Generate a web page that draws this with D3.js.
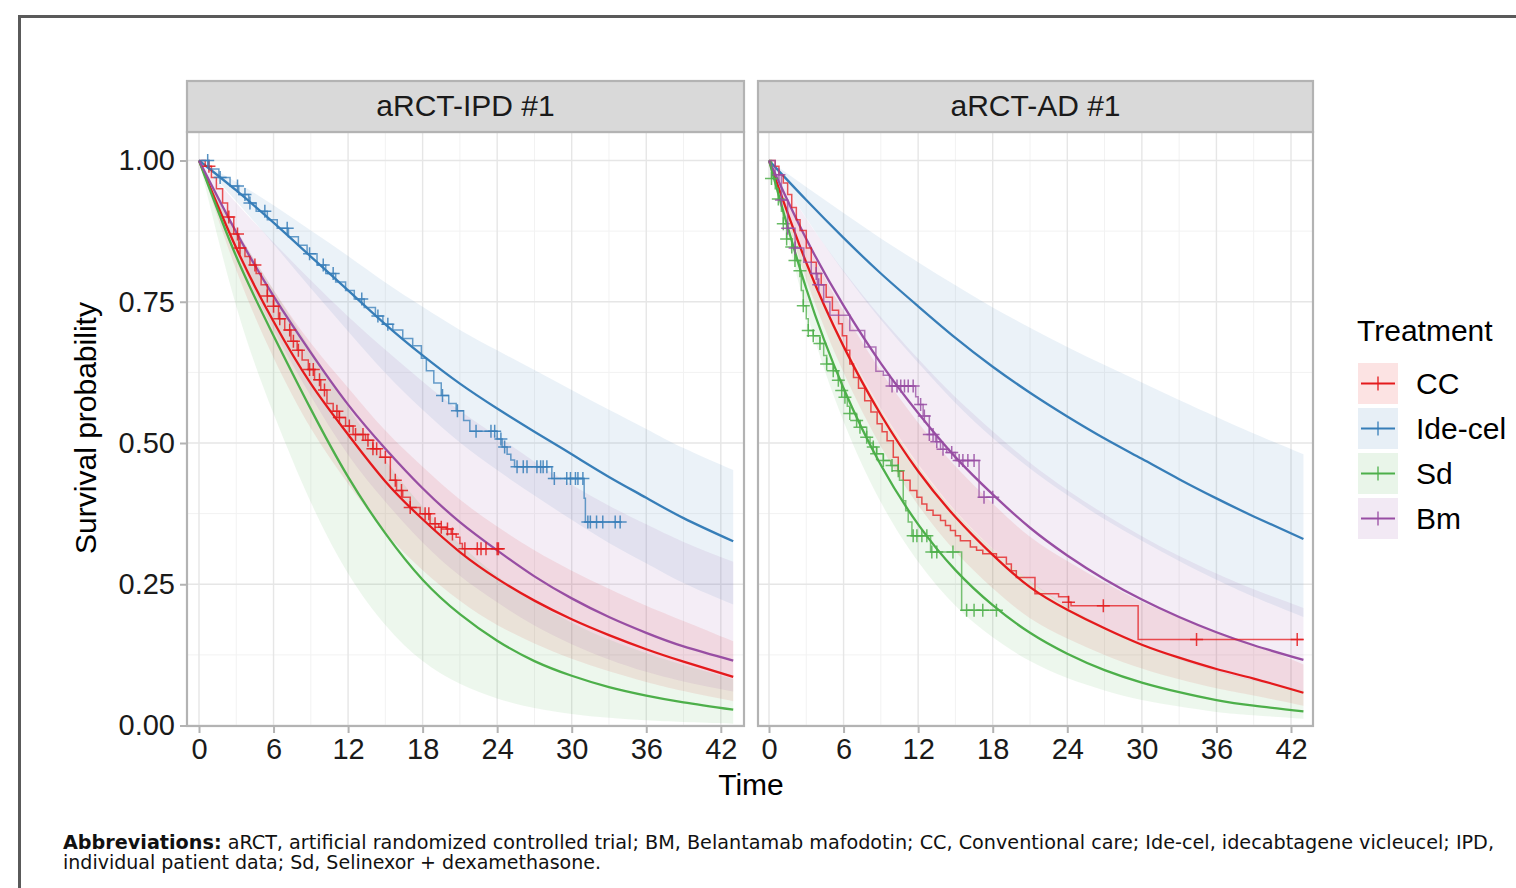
<!DOCTYPE html>
<html>
<head>
<meta charset="utf-8">
<script src="https://cdn.jsdelivr.net/npm/d3@7"></script>
<style>
  body { margin: 0; background: #fff; }
  svg { display: block; }
</style>
</head>
<body>
<div id="chart"></div>
<script>
// ---- data ----
var panelTitles = ["aRCT-IPD #1", "aRCT-AD #1"];
var treatments = ["CC", "Ide-cel", "Sd", "Bm"];
var colors = ["#e41a1c", "#377eb8", "#4daf4a", "#984ea3"];
var xTicks = [0, 6, 12, 18, 24, 30, 36, 42];
var yTicks = [0, 0.25, 0.5, 0.75, 1];

// time points of the fitted (parametric) curves
var times = [0, 3, 6, 9, 12, 15, 18, 21, 24, 27, 30, 33, 36, 39, 43];

// aRCT-IPD #1 fitted curves and bands
var ipdCCFit  = [1, 0.845, 0.715, 0.605, 0.515, 0.432, 0.365, 0.307, 0.26, 0.221, 0.188, 0.16, 0.135, 0.113, 0.086];
var ipdCCLo   = [1, 0.806, 0.651, 0.526, 0.428, 0.342, 0.275, 0.221, 0.178, 0.145, 0.118, 0.096, 0.077, 0.061, 0.043];
var ipdCCHi   = [1, 0.878, 0.771, 0.677, 0.598, 0.522, 0.458, 0.4, 0.352, 0.31, 0.274, 0.242, 0.212, 0.185, 0.149];
var ipdIdeFit = [1, 0.947, 0.89, 0.83, 0.77, 0.71, 0.655, 0.605, 0.561, 0.52, 0.48, 0.44, 0.403, 0.367, 0.326];
var ipdIdeLo  = [1, 0.928, 0.852, 0.774, 0.698, 0.624, 0.559, 0.501, 0.452, 0.407, 0.364, 0.323, 0.287, 0.252, 0.214];
var ipdIdeHi  = [1, 0.962, 0.921, 0.876, 0.831, 0.784, 0.741, 0.7, 0.664, 0.629, 0.594, 0.559, 0.525, 0.491, 0.452];
var ipdSdFit  = [1, 0.83, 0.69, 0.56, 0.44, 0.34, 0.258, 0.197, 0.15, 0.114, 0.088, 0.068, 0.053, 0.041, 0.028];
var ipdSdLo   = [1, 0.742, 0.552, 0.395, 0.269, 0.178, 0.114, 0.074, 0.048, 0.031, 0.0205, 0.0136, 0.0091, 0.006, 0.0033];
var ipdSdHi   = [1, 0.878, 0.771, 0.666, 0.563, 0.47, 0.387, 0.321, 0.265, 0.219, 0.182, 0.152, 0.128, 0.107, 0.082];
var ipdBmFit  = [1, 0.873, 0.76, 0.66, 0.568, 0.49, 0.42, 0.36, 0.31, 0.264, 0.225, 0.192, 0.164, 0.14, 0.115];
var ipdBmLo   = [1, 0.838, 0.7, 0.583, 0.479, 0.396, 0.324, 0.265, 0.218, 0.177, 0.144, 0.117, 0.095, 0.078, 0.06];
var ipdBmHi   = [1, 0.925, 0.855, 0.788, 0.724, 0.665, 0.609, 0.557, 0.512, 0.467, 0.426, 0.389, 0.356, 0.325, 0.29];

// aRCT-AD #1 fitted curves and bands
var adCCFit  = [1, 0.819, 0.671, 0.55, 0.45, 0.369, 0.302, 0.245, 0.205, 0.172, 0.143, 0.12, 0.1, 0.083, 0.058];
var adCCLo   = [1, 0.79, 0.625, 0.494, 0.39, 0.308, 0.243, 0.19, 0.154, 0.125, 0.101, 0.082, 0.066, 0.053, 0.035];
var adCCHi   = [1, 0.856, 0.733, 0.627, 0.536, 0.459, 0.393, 0.334, 0.291, 0.253, 0.219, 0.191, 0.166, 0.144, 0.108];
var adIdeFit = [1, 0.93, 0.863, 0.8, 0.742, 0.686, 0.635, 0.589, 0.547, 0.508, 0.472, 0.436, 0.402, 0.37, 0.33];
var adIdeLo  = [1, 0.898, 0.803, 0.718, 0.642, 0.571, 0.509, 0.455, 0.408, 0.365, 0.327, 0.291, 0.258, 0.228, 0.192];
var adIdeHi  = [1, 0.953, 0.907, 0.862, 0.82, 0.779, 0.74, 0.704, 0.67, 0.638, 0.607, 0.576, 0.546, 0.517, 0.48];
var adSdFit  = [1, 0.773, 0.597, 0.461, 0.356, 0.275, 0.213, 0.164, 0.127, 0.098, 0.076, 0.059, 0.045, 0.035, 0.025];
var adSdLo   = [1, 0.734, 0.538, 0.395, 0.29, 0.212, 0.156, 0.114, 0.084, 0.062, 0.045, 0.0335, 0.024, 0.018, 0.012];
var adSdHi   = [1, 0.823, 0.678, 0.558, 0.459, 0.378, 0.312, 0.256, 0.211, 0.174, 0.143, 0.118, 0.097, 0.08, 0.062];
var adBmFit  = [1, 0.861, 0.743, 0.641, 0.553, 0.475, 0.409, 0.35, 0.301, 0.259, 0.223, 0.192, 0.165, 0.142, 0.116];
var adBmLo   = [1, 0.823, 0.68, 0.561, 0.463, 0.38, 0.313, 0.255, 0.21, 0.173, 0.142, 0.117, 0.096, 0.079, 0.061];
var adBmHi   = [1, 0.897, 0.805, 0.723, 0.649, 0.581, 0.521, 0.465, 0.417, 0.374, 0.335, 0.3, 0.269, 0.241, 0.208];

// Kaplan-Meier steps [time, survival after the drop], censoring times, last follow-up
var ipdCCKm = [[0, 1], [0.5, 0.99], [1.0, 0.97], [1.4, 0.95], [1.9, 0.925], [2.3, 0.9], [2.8, 0.87], [3.2, 0.845],
  [3.7, 0.83], [4.1, 0.815], [4.6, 0.8], [5.0, 0.78], [5.5, 0.76], [6.0, 0.742], [6.4, 0.72], [6.9, 0.7], [7.4, 0.68],
  [7.9, 0.664], [8.3, 0.647], [8.8, 0.63], [9.3, 0.612], [9.8, 0.594], [10.3, 0.57], [10.8, 0.556], [11.3, 0.545],
  [11.8, 0.53], [12.4, 0.515], [13.4, 0.505], [14.0, 0.49], [14.6, 0.475], [15.4, 0.434], [15.9, 0.416], [16.4, 0.404],
  [17.0, 0.386], [17.8, 0.375], [18.6, 0.357], [19.3, 0.351], [19.9, 0.348], [20.3, 0.339], [20.7, 0.333], [21.0, 0.322],
  [21.2, 0.313]];
var ipdCCCens = [0.8, 2.4, 3.1, 3.3, 4.5, 5.5, 6.0, 6.5, 7.3, 7.6, 8.0, 8.9, 9.2, 9.7, 10.1, 11.1, 11.3, 12.1, 12.6,
  13.2, 13.6, 14.0, 14.3, 15.0, 15.8, 16.3, 17.0, 18.2, 18.5, 19.0, 19.5, 20.0, 20.4, 21.4, 22.4, 22.7, 23.1, 24.0, 24.1];
var ipdCCEnd = 24.5;

var ipdIdeKm = [[0, 1], [0.8, 0.985], [1.6, 0.97], [2.5, 0.955], [3.2, 0.94], [4.0, 0.925], [4.6, 0.91], [5.5, 0.895],
  [6.3, 0.88], [7.2, 0.865], [8.0, 0.85], [8.7, 0.835], [9.5, 0.815], [10.2, 0.8], [11.0, 0.785], [11.8, 0.77],
  [12.5, 0.755], [13.3, 0.74], [14.2, 0.725], [14.8, 0.71], [15.6, 0.7], [16.4, 0.685], [17.2, 0.672], [17.9, 0.65],
  [18.3, 0.628], [18.9, 0.606], [19.5, 0.584], [20.1, 0.57], [20.7, 0.557], [21.3, 0.54], [21.8, 0.521], [24.0, 0.507],
  [24.4, 0.493], [24.8, 0.48], [25.1, 0.47], [25.4, 0.458], [28.4, 0.437], [31.0, 0.402], [31.1, 0.36]];
var ipdIdeCens = [0.7, 1.7, 3.1, 3.7, 4.1, 5.3, 7.1, 8.9, 10.0, 10.8, 13.1, 14.4, 15.2, 19.6, 20.8, 22.3, 23.5, 23.8,
  24.3, 24.6, 25.6, 26.1, 26.4, 27.2, 27.5, 27.7, 28.0, 28.6, 29.6, 29.9, 30.3, 30.5, 30.9, 31.3, 31.5, 32.0, 32.5, 33.5, 33.9];
var ipdIdeEnd = 33.9;

var adCCKm = [[0, 1], [0.5, 0.99], [0.8, 0.975], [1.15, 0.96], [1.5, 0.94], [1.83, 0.917], [2.2, 0.895], [2.5, 0.876],
  [3.0, 0.845], [3.4, 0.82], [3.8, 0.8], [4.2, 0.78], [4.6, 0.758], [5.1, 0.735], [5.6, 0.711], [5.9, 0.69], [6.25, 0.664],
  [6.5, 0.64], [6.8, 0.616], [7.2, 0.597], [7.7, 0.575], [8.2, 0.555], [8.7, 0.534], [9.1, 0.52], [9.5, 0.504], [10.0, 0.475],
  [10.4, 0.45], [10.8, 0.434], [11.35, 0.416], [11.9, 0.404], [12.3, 0.392], [12.7, 0.381], [13.2, 0.372], [13.8, 0.363],
  [14.2, 0.354], [14.6, 0.345], [15.0, 0.336], [15.4, 0.327], [16.2, 0.316], [16.7, 0.31], [17.2, 0.304], [18.3, 0.298],
  [19.1, 0.286], [19.5, 0.274], [19.9, 0.262], [21.4, 0.233], [23.3, 0.228], [24.1, 0.218], [24.3, 0.212], [29.7, 0.152]];
var adCCCens = [24.1, 26.9, 34.4, 42.5];
var adCCEnd = 43;

var adSdKm = [[0, 1], [0.2, 0.968], [0.5, 0.95], [0.75, 0.932], [1.0, 0.91], [1.15, 0.888], [1.42, 0.861], [1.83, 0.847],
  [2.09, 0.823], [2.49, 0.805], [2.6, 0.77], [2.76, 0.743], [3.0, 0.72], [3.16, 0.699], [3.56, 0.69], [4.1, 0.676],
  [4.4, 0.655], [4.64, 0.64], [5.17, 0.628], [5.58, 0.611], [5.85, 0.593], [6.11, 0.581], [6.3, 0.565], [6.5, 0.552],
  [7.05, 0.54], [7.32, 0.528], [7.86, 0.51], [8.13, 0.5], [8.39, 0.493], [8.66, 0.481], [9.2, 0.469], [9.8, 0.46],
  [10.4, 0.451], [10.5, 0.434], [10.8, 0.398], [11.0, 0.38], [11.2, 0.36], [11.5, 0.336], [13.0, 0.307], [15.5, 0.204]];
var adSdCens = [0.2, 0.75, 1.15, 1.42, 1.83, 2.09, 2.49, 2.76, 3.16, 3.56, 4.1, 4.64, 5.17, 5.58, 5.85, 6.11, 6.5, 7.05,
  7.32, 7.86, 8.39, 8.66, 9.2, 9.9, 10.4, 11.6, 11.9, 12.3, 12.7, 13.1, 13.5, 14.8, 15.9, 16.5, 17.2, 18.3];
var adSdEnd = 18.6;

var adBmKm = [[0, 1], [0.5, 0.975], [1.0, 0.93], [1.5, 0.88], [2.1, 0.845], [2.8, 0.82], [3.4, 0.8], [3.9, 0.78],
  [4.4, 0.75], [4.9, 0.726], [6.5, 0.699], [7.7, 0.67], [8.6, 0.627], [9.2, 0.62], [9.7, 0.601], [11.8, 0.582],
  [12.0, 0.568], [12.4, 0.548], [12.9, 0.515], [13.4, 0.502], [13.8, 0.489], [14.3, 0.483], [15.0, 0.469], [16.9, 0.404]];
var adBmCens = [0.8, 1.0, 1.5, 2.1, 3.8, 4.0, 9.9, 10.3, 10.6, 10.9, 11.2, 11.6, 12.2, 12.5, 12.9, 13.2, 13.5, 14.0,
  14.7, 15.3, 15.6, 16.0, 16.5, 17.3, 18.0];
var adBmEnd = 18.1;

var noteLine1 = "aRCT, artificial randomized controlled trial; BM, Belantamab mafodotin; CC, Conventional care; Ide-cel, idecabtagene vicleucel; IPD,";
var noteLine2 = "individual patient data; Sd, Selinexor + dexamethasone.";

// ---- layout ----
var width = 1516, height = 888;
var plotTop = 132, plotBottom = 726, stripTop = 81;
var panelBox = [{ left: 187, right: 744, x0: 199, x42: 720.8 },
                { left: 758, right: 1313, x0: 769, x42: 1291 }];
var sans = "'Liberation Sans', Arial, sans-serif";
var noteFont = "'DejaVu Sans Condensed', 'DejaVu Sans', sans-serif";

var panels = [
  { title: panelTitles[0],
    fits: [[ipdCCFit, ipdCCLo, ipdCCHi], [ipdIdeFit, ipdIdeLo, ipdIdeHi], [ipdSdFit, ipdSdLo, ipdSdHi], [ipdBmFit, ipdBmLo, ipdBmHi]],
    km: [{ tr: 0, steps: ipdCCKm, cens: ipdCCCens, end: ipdCCEnd },
         { tr: 1, steps: ipdIdeKm, cens: ipdIdeCens, end: ipdIdeEnd }] },
  { title: panelTitles[1],
    fits: [[adCCFit, adCCLo, adCCHi], [adIdeFit, adIdeLo, adIdeHi], [adSdFit, adSdLo, adSdHi], [adBmFit, adBmLo, adBmHi]],
    km: [{ tr: 0, steps: adCCKm, cens: adCCCens, end: adCCEnd },
         { tr: 2, steps: adSdKm, cens: adSdCens, end: adSdEnd },
         { tr: 3, steps: adBmKm, cens: adBmCens, end: adBmEnd }] }
];

var svg = d3.select("#chart").append("svg")
    .attr("width", width)
    .attr("height", height);

// outer frame of the figure
svg.append("line")
    .attr("x1", 18).attr("x2", width).attr("y1", 16.5).attr("y2", 16.5)
    .attr("stroke", "#5a5a5a").attr("stroke-width", 3);
svg.append("line")
    .attr("x1", 19.5).attr("x2", 19.5).attr("y1", 15).attr("y2", height)
    .attr("stroke", "#5a5a5a").attr("stroke-width", 3);

var y = d3.scaleLinear().domain([0, 1]).range([725.5, 160.5]);

function stepAt(steps, t) {
    var s = 1;
    steps.forEach(function (d) { if (d[0] <= t) s = d[1]; });
    return s;
}

var cross = "M-6.5,0H6.5M0,-6.5V6.5";
var defs = svg.append("defs");

panels.forEach(function (p, i) {
    var box = panelBox[i];
    var x = d3.scaleLinear().domain([0, 42]).range([box.x0, box.x42]);
    var g = svg.append("g");

    defs.append("clipPath").attr("id", "clip" + i)
      .append("rect")
        .attr("x", box.left).attr("y", plotTop)
        .attr("width", box.right - box.left).attr("height", plotBottom - plotTop);

    // grid
    var minorX = [3, 9, 15, 21, 27, 33, 39];
    var minorY = [0.125, 0.375, 0.625, 0.875];
    g.append("g").selectAll("line").data(minorX).join("line")
        .attr("x1", d => x(d)).attr("x2", d => x(d))
        .attr("y1", plotTop).attr("y2", plotBottom)
        .attr("stroke", "#f2f2f2").attr("stroke-width", 1);
    g.append("g").selectAll("line").data(minorY).join("line")
        .attr("x1", box.left).attr("x2", box.right)
        .attr("y1", d => y(d)).attr("y2", d => y(d))
        .attr("stroke", "#f2f2f2").attr("stroke-width", 1);
    g.append("g").selectAll("line").data(xTicks).join("line")
        .attr("x1", d => x(d)).attr("x2", d => x(d))
        .attr("y1", plotTop).attr("y2", plotBottom)
        .attr("stroke", "#e6e6e6").attr("stroke-width", 1.4);
    g.append("g").selectAll("line").data(yTicks).join("line")
        .attr("x1", box.left).attr("x2", box.right)
        .attr("y1", d => y(d)).attr("y2", d => y(d))
        .attr("stroke", "#e6e6e6").attr("stroke-width", 1.4);

    var plot = g.append("g").attr("clip-path", "url(#clip" + i + ")");

    // confidence ribbons
    var area = d3.area()
        .x((d, k) => x(times[k]))
        .y0(d => y(d[0]))
        .y1(d => y(d[1]))
        .curve(d3.curveNatural);
    var line = d3.line()
        .x((d, k) => x(times[k]))
        .y(d => y(d))
        .curve(d3.curveNatural);

    plot.append("g").selectAll("path").data(p.fits).join("path")
        .attr("d", f => area(f[1].map((lo, k) => [lo, f[2][k]])))
        .attr("fill", (f, k) => colors[k])
        .attr("fill-opacity", 0.1);

    // fitted curves
    plot.append("g").selectAll("path").data(p.fits).join("path")
        .attr("d", f => line(f[0]))
        .attr("fill", "none")
        .attr("stroke", (f, k) => colors[k])
        .attr("stroke-width", 2.3);

    // Kaplan-Meier curves
    var stepLine = d3.line()
        .x(d => x(d[0]))
        .y(d => y(d[1]))
        .curve(d3.curveStepAfter);
    p.km.forEach(function (k) {
        var pts = k.steps.concat([[k.end, k.steps[k.steps.length - 1][1]]]);
        plot.append("path")
            .attr("d", stepLine(pts))
            .attr("fill", "none")
            .attr("stroke", colors[k.tr])
            .attr("stroke-opacity", 0.75)
            .attr("stroke-width", 1.5);
        plot.append("g").selectAll("path").data(k.cens).join("path")
            .attr("transform", t => `translate(${x(t)},${y(stepAt(k.steps, t))})`)
            .attr("d", cross)
            .attr("fill", "none")
            .attr("stroke", colors[k.tr])
            .attr("stroke-opacity", 0.85)
            .attr("stroke-width", 1.5);
    });

    // panel border and strip
    g.append("rect")
        .attr("x", box.left).attr("y", plotTop)
        .attr("width", box.right - box.left).attr("height", plotBottom - plotTop)
        .attr("fill", "none").attr("stroke", "#b3b3b3").attr("stroke-width", 2.2);
    g.append("rect")
        .attr("x", box.left).attr("y", stripTop)
        .attr("width", box.right - box.left).attr("height", plotTop - stripTop)
        .attr("fill", "#d9d9d9").attr("stroke", "#b3b3b3").attr("stroke-width", 2.2);
    g.append("text")
        .attr("x", (box.left + box.right) / 2).attr("y", 116)
        .attr("text-anchor", "middle")
        .style("font-family", sans)
        .style("font-size", "30px").attr("fill", "#1a1a1a")
        .text(p.title);

    // x axis
    var xAxis = svg.append("g")
        .attr("transform", `translate(0,${plotBottom + 1})`)
        .call(d3.axisBottom(x).tickValues(xTicks).tickSize(6).tickPadding(5).tickFormat(d3.format("d")));
    xAxis.select(".domain").remove();
    xAxis.selectAll(".tick line").attr("stroke", "#b3b3b3").attr("stroke-width", 2);
    xAxis.selectAll(".tick text").attr("fill", "#1a1a1a").style("font-size", "29px")
        .style("font-family", sans);

    if (i === 0) {
        var yAxis = svg.append("g")
            .attr("transform", `translate(${box.left - 1},0)`)
            .call(d3.axisLeft(y).tickValues(yTicks).tickSize(6).tickPadding(5).tickFormat(d3.format(".2f")));
        yAxis.select(".domain").remove();
        yAxis.selectAll(".tick line").attr("stroke", "#b3b3b3").attr("stroke-width", 2);
        yAxis.selectAll(".tick text").attr("fill", "#1a1a1a").style("font-size", "29px")
            .style("font-family", sans);
    }
});

// axis titles
svg.append("text")
    .attr("x", 751).attr("y", 795)
    .attr("text-anchor", "middle")
    .style("font-family", sans)
    .style("font-size", "30px").attr("fill", "#000")
    .text("Time");
svg.append("text")
    .attr("transform", "translate(96,428) rotate(-90)")
    .attr("text-anchor", "middle")
    .style("font-family", sans)
    .style("font-size", "30px").attr("fill", "#000")
    .text("Survival probability");

// legend
var legend = svg.append("g").attr("transform", "translate(1357,0)");
legend.append("text")
    .attr("x", 0).attr("y", 341)
    .style("font-family", sans)
    .style("font-size", "30px").attr("fill", "#000")
    .text("Treatment");
var keys = legend.selectAll("g.key").data(treatments).join("g")
    .attr("class", "key")
    .attr("transform", (d, k) => `translate(1,${363 + k * 45})`);
keys.append("rect")
    .attr("width", 40).attr("height", 41)
    .attr("fill", (d, k) => colors[k]).attr("fill-opacity", 0.12);
keys.append("line")
    .attr("x1", 3).attr("x2", 37).attr("y1", 20.5).attr("y2", 20.5)
    .attr("stroke", (d, k) => colors[k]).attr("stroke-width", 2);
keys.append("path")
    .attr("transform", "translate(20,20.5)")
    .attr("d", "M0,-7V7")
    .attr("stroke", (d, k) => colors[k]).attr("stroke-width", 1.3);
keys.append("text")
    .attr("x", 58).attr("y", 31)
    .style("font-family", sans)
    .style("font-size", "30px").attr("fill", "#000")
    .text(d => d);

// footnote
var t1 = svg.append("text")
    .attr("x", 63).attr("y", 849)
    .style("font-family", noteFont)
    .style("font-stretch", "condensed")
    .style("font-size", "19px")
    .attr("fill", "#111")
    .attr("textLength", 1431).attr("lengthAdjust", "spacingAndGlyphs");
t1.append("tspan").attr("font-weight", "bold").text("Abbreviations:");
t1.append("tspan").text(" " + noteLine1);
svg.append("text")
    .attr("x", 63).attr("y", 869)
    .style("font-family", noteFont)
    .style("font-stretch", "condensed")
    .style("font-size", "19px")
    .attr("fill", "#111")
    .attr("textLength", 538).attr("lengthAdjust", "spacingAndGlyphs")
    .text(noteLine2);
</script>
</body>
</html>
